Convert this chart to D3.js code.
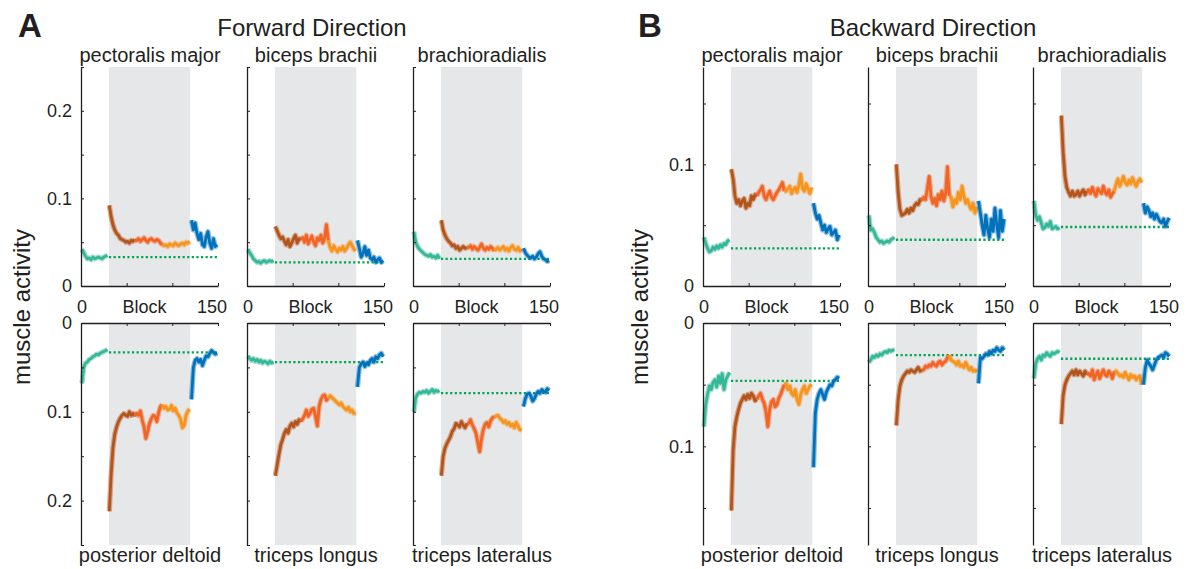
<!DOCTYPE html>
<html><head><meta charset="utf-8">
<script src="https://cdn.jsdelivr.net/npm/d3@7"></script>
<style>
body{margin:0;background:#fff}
text{font-family:Arial,"Liberation Sans",Helvetica,sans-serif;fill:#231f20}
</style>
</head><body>
<svg id="chart" width="1192" height="569"></svg>
<script>
// ---------------- DATA ----------------
const muscles = ["pectoralis major","biceps brachii","brachioradialis","posterior deltoid","triceps longus","triceps lateralus"];
const phases = ["baseline","early","mid","late","washout"];
const phaseColors = ["#36b898","#b5541a","#f26424","#f7941e","#0072bc"];
const blocks = d3.range(1, 151, 2); // block numbers sampled every 2 blocks
const xTicks = [0, 50, 100, 150];
const xTickLabels = ["0", "Block", "150"];
const fwdYTicks = [0, 0.05, 0.1, 0.15, 0.2, 0.25];
const fwdYLabels = [0, 0.1, 0.2];
const bwdYTicks = [0, 0.05, 0.1, 0.15];
const bwdYLabels = [0, 0.1];
const fwdBaselineLevel = [0.033, 0.027, 0.031, 0.033, 0.044, 0.079];
const bwdBaselineLevel = [0.031, 0.038, 0.0485, 0.047, 0.026, 0.029];

const fwdPectoralis = [
 .042,.038,.034,.031,.032,.030,.033,.031,.032,.033,.032,.031,.033,.034,.035,
 .092,.079,.070,.064,.060,.058,.054,.053,.052,.050,.051,.049,.052,.051,.053,
 .052,.054,.051,.053,.055,.052,.050,.053,.054,.052,.051,.053,.052,.049,.047,
 .046,.047,.045,.048,.047,.046,.049,.047,.046,.048,.049,.047,.050,.049,.051,
 .075,.064,.072,.060,.053,.060,.047,.045,.056,.062,.049,.043,.054,.045,.047];
const fwdBiceps = [
 .042,.038,.035,.031,.029,.027,.028,.026,.028,.029,.027,.028,.029,.028,.029,
 .068,.063,.058,.054,.056,.051,.047,.053,.045,.049,.054,.058,.049,.054,.053,
 .055,.050,.058,.048,.053,.057,.050,.046,.055,.052,.058,.049,.055,.070,.052,
 .044,.040,.046,.042,.039,.043,.041,.045,.040,.043,.047,.050,.046,.042,.040,
 .052,.043,.033,.037,.045,.035,.041,.032,.030,.033,.027,.030,.032,.027,.029];
const fwdBrachio = [
 .062,.050,.045,.042,.040,.038,.036,.035,.034,.036,.033,.034,.032,.035,.031,
 .075,.064,.058,.054,.051,.049,.046,.047,.043,.045,.041,.043,.045,.043,.044,
 .044,.046,.042,.045,.043,.041,.044,.048,.043,.041,.044,.042,.045,.043,.040,
 .042,.044,.041,.043,.045,.041,.043,.040,.044,.046,.042,.041,.044,.040,.042,
 .043,.038,.035,.033,.032,.034,.031,.033,.037,.039,.034,.031,.030,.028,.029];
const fwdDeltoid = [
 .068,.050,.045,.044,.041,.040,.038,.037,.035,.036,.034,.033,.032,.031,.030,
 .212,.170,.140,.125,.117,.111,.107,.104,.102,.104,.105,.100,.104,.102,.105,
 .102,.104,.099,.109,.117,.130,.122,.113,.108,.104,.105,.111,.101,.094,.092,
 .096,.094,.098,.097,.093,.099,.096,.101,.104,.108,.118,.115,.104,.099,.097,
 .086,.050,.042,.040,.044,.041,.048,.042,.037,.038,.034,.031,.033,.035,.034];
const fwdTriLongus = [
 .037,.040,.042,.040,.043,.041,.044,.042,.045,.043,.044,.046,.043,.045,.044,
 .172,.160,.148,.137,.131,.124,.120,.124,.116,.113,.117,.111,.114,.109,.111,
 .108,.104,.098,.105,.102,.097,.096,.105,.116,.094,.086,.082,.081,.087,.085,
 .082,.084,.086,.088,.090,.092,.090,.094,.096,.098,.095,.100,.098,.102,.101,
 .072,.050,.046,.044,.049,.045,.047,.042,.040,.044,.038,.040,.036,.034,.038];
const fwdTriLateralus = [
 .100,.084,.080,.078,.079,.077,.078,.076,.079,.077,.075,.078,.076,.077,.076,
 .172,.150,.141,.136,.132,.128,.122,.119,.113,.115,.117,.111,.115,.118,.113,
 .113,.109,.115,.119,.124,.135,.145,.130,.120,.114,.112,.117,.110,.107,.105,
 .105,.104,.107,.109,.112,.110,.114,.112,.116,.114,.118,.112,.116,.120,.121,
 .094,.085,.080,.079,.082,.088,.085,.080,.077,.079,.075,.077,.078,.074,.076];

const bwdPectoralis = [
 .040,.035,.031,.028,.029,.032,.030,.033,.031,.034,.032,.035,.034,.037,.038,
 .096,.088,.074,.068,.071,.066,.070,.072,.064,.068,.066,.074,.071,.075,.074,
 .077,.079,.082,.074,.071,.075,.078,.073,.071,.074,.077,.079,.082,.085,.078,
 .078,.080,.082,.076,.079,.081,.077,.083,.092,.080,.078,.084,.080,.076,.081,
 .068,.060,.055,.058,.052,.046,.050,.044,.047,.049,.042,.044,.046,.038,.042];
const bwdBiceps = [
 .058,.046,.047,.044,.040,.038,.036,.037,.035,.036,.037,.036,.038,.039,.040,
 .100,.077,.063,.058,.059,.060,.063,.060,.064,.062,.066,.068,.067,.071,.070,
 .073,.071,.080,.090,.074,.068,.072,.066,.075,.071,.078,.070,.076,.098,.074,
 .073,.065,.071,.068,.077,.071,.082,.074,.068,.071,.066,.063,.068,.060,.065,
 .070,.060,.050,.042,.058,.047,.040,.055,.045,.064,.050,.040,.062,.045,.055];
const bwdBrachio = [
 .070,.058,.054,.057,.052,.047,.048,.051,.049,.053,.047,.048,.049,.047,.048,
 .140,.110,.090,.081,.077,.074,.078,.074,.075,.078,.074,.077,.079,.075,.078,
 .079,.076,.081,.077,.074,.080,.078,.076,.082,.077,.075,.079,.073,.076,.078,
 .084,.088,.082,.086,.090,.085,.083,.087,.084,.089,.085,.082,.086,.088,.085,
 .068,.060,.065,.062,.057,.060,.055,.059,.056,.053,.052,.055,.049,.053,.056];
const bwdDeltoid = [
 .084,.066,.058,.051,.054,.048,.046,.052,.043,.049,.041,.054,.046,.043,.040,
 .152,.103,.084,.076,.070,.065,.062,.059,.062,.058,.061,.057,.059,.063,.062,
 .059,.057,.062,.065,.072,.084,.070,.064,.062,.068,.066,.061,.058,.054,.050,
 .049,.054,.051,.057,.059,.054,.062,.066,.058,.054,.051,.057,.054,.051,.050,
 .117,.073,.062,.057,.054,.058,.062,.056,.053,.050,.051,.047,.046,.044,.045];
const bwdTriLongus = [
 .032,.030,.027,.028,.026,.027,.025,.026,.024,.023,.024,.022,.023,.022,.022,
 .083,.062,.051,.046,.043,.041,.039,.040,.038,.039,.040,.038,.036,.039,.038,
 .038,.035,.036,.034,.035,.032,.034,.035,.032,.031,.034,.032,.031,.028,.026,
 .030,.031,.032,.034,.031,.035,.034,.036,.032,.035,.038,.036,.039,.038,.040,
 .049,.028,.029,.027,.025,.026,.023,.025,.022,.023,.020,.022,.023,.020,.022];
const bwdTriLateralus = [
 .045,.033,.029,.027,.030,.026,.027,.024,.026,.027,.024,.025,.024,.023,.024,
 .082,.059,.050,.046,.043,.041,.039,.042,.038,.042,.039,.041,.043,.039,.042,
 .041,.043,.038,.046,.042,.039,.045,.041,.038,.042,.043,.039,.041,.045,.039,
 .039,.041,.043,.042,.044,.040,.043,.046,.042,.044,.043,.046,.044,.043,.050,
 .050,.036,.030,.033,.035,.038,.034,.030,.028,.027,.026,.028,.024,.025,.027];

const fwdSeries = [fwdPectoralis, fwdBiceps, fwdBrachio, fwdDeltoid, fwdTriLongus, fwdTriLateralus];
const bwdSeries = [bwdPectoralis, bwdBiceps, bwdBrachio, bwdDeltoid, bwdTriLongus, bwdTriLateralus];

// ---------------- LAYOUT ----------------
const svg = d3.select("#chart");
const plotW = 137;
const rows = [{top: 67, bottom: 286, flip: false}, {top: 323, bottom: 545, flip: true}];
const panels = [
  {letter: "A", title: "Forward Direction", titleX: 312, letterX: 18, ylabX: 30,
   cols: [81, 247, 413], yMax: 0.25, ticks: fwdYTicks, labels: fwdYLabels,
   series: fwdSeries, base: fwdBaselineLevel},
  {letter: "B", title: "Backward Direction", titleX: 933, letterX: 638, ylabX: 648,
   cols: [703, 868, 1033], yMax: 0.18, ticks: bwdYTicks, labels: bwdYLabels,
   series: bwdSeries, base: bwdBaselineLevel}
];
const shadeStart = 30.6, shadeEnd = 119.6;
const segLen = 15;

panels.forEach(p => {
  svg.append("text").attr("x", p.letterX).attr("y", 37)
    .style("font-size", "33px").style("font-weight", "bold").text(p.letter);
  svg.append("text").attr("x", p.titleX).attr("y", 36).attr("text-anchor", "middle")
    .style("font-size", "24px").text(p.title);
  svg.append("text").attr("transform", `translate(${p.ylabX},307) rotate(-90)`)
    .attr("text-anchor", "middle").style("font-size", "24px").text("muscle activity");

  rows.forEach((r, ri) => {
    p.cols.forEach((x0, ci) => {
      const mi = ri * 3 + ci;
      const vals = p.series[mi];
      const x = d3.scaleLinear().domain([0, 150]).range([x0, x0 + plotW]);
      const y = d3.scaleLinear().domain([0, p.yMax])
        .range(r.flip ? [r.top, r.bottom] : [r.bottom, r.top]);
      const g = svg.append("g");

      // shaded adaptation period
      g.append("rect").attr("x", x(shadeStart)).attr("y", r.top)
        .attr("width", x(shadeEnd) - x(shadeStart)).attr("height", r.bottom - r.top)
        .attr("fill", "#e6e7e8");

      // baseline reference (dotted)
      g.append("line").attr("x1", x(30.6)).attr("x2", x(150))
        .attr("y1", y(p.base[mi])).attr("y2", y(p.base[mi]))
        .attr("stroke", "#00a651").attr("stroke-width", 2.3)
        .attr("stroke-dasharray", "2.2,2.4");

      // series
      const pts = vals.map((v, i) => ({b: blocks[i], v}));
      const line = d3.line().x(d => x(d.b)).y(d => y(d.v));
      phases.forEach((ph, k) => {
        let s = k * segLen, e = (k + 1) * segLen;
        if (k === 2 || k === 3) s -= 1; // continuous within adaptation
        const seg = pts.slice(s, e);
        g.append("path").attr("d", line(seg)).attr("fill", "none")
          .attr("stroke", phaseColors[k]).attr("stroke-opacity", 0.45)
          .attr("stroke-width", 5.2).attr("stroke-linejoin", "round");
        g.append("path").attr("d", line(seg)).attr("fill", "none")
          .attr("stroke", phaseColors[k]).attr("stroke-width", 2.8)
          .attr("stroke-linejoin", "round");
      });

      // y axis
      const ya = d3.axisLeft(y).tickValues(p.ticks).tickSizeInner(-3).tickSizeOuter(0)
        .tickPadding(9)
        .tickFormat(d => (ci === 0 && p.labels.some(l => Math.abs(l - d) < 1e-9)) ? (d === 0 ? "0" : d3.format(".1f")(d)) : "");
      const yg = g.append("g").attr("transform", `translate(${x0},0)`).call(ya);
      // x axis
      const xa = (r.flip ? d3.axisTop(x) : d3.axisBottom(x)).tickValues(xTicks)
        .tickSizeInner(-3).tickSizeOuter(0).tickFormat("");
      const xg = g.append("g").attr("transform", `translate(0,${r.flip ? r.top : r.bottom})`).call(xa);
      [yg, xg].forEach(ax => {
        ax.select(".domain").attr("stroke", "#231f20").attr("stroke-width", 1.3);
        ax.selectAll(".tick line").attr("stroke", "#231f20").attr("stroke-width", 1);
        ax.selectAll("text").style("font-size", "18px").attr("fill", "#231f20")
          .style("font-family", "Arial, 'Liberation Sans', sans-serif");
      });

      if (!r.flip) {
        const lx = [x(0) + 1, x(75) - 5, x(150) - 6];
        xTickLabels.forEach((t, i) => {
          g.append("text").attr("x", lx[i]).attr("y", 313).attr("text-anchor", "middle")
            .style("font-size", "18px").text(t);
        });
      }

      g.append("text").attr("x", x0 + 69).attr("y", r.flip ? 562 : 62)
        .attr("text-anchor", "middle").style("font-size", "20px").text(muscles[mi]);
    });
  });
});
</script>
</body></html>
